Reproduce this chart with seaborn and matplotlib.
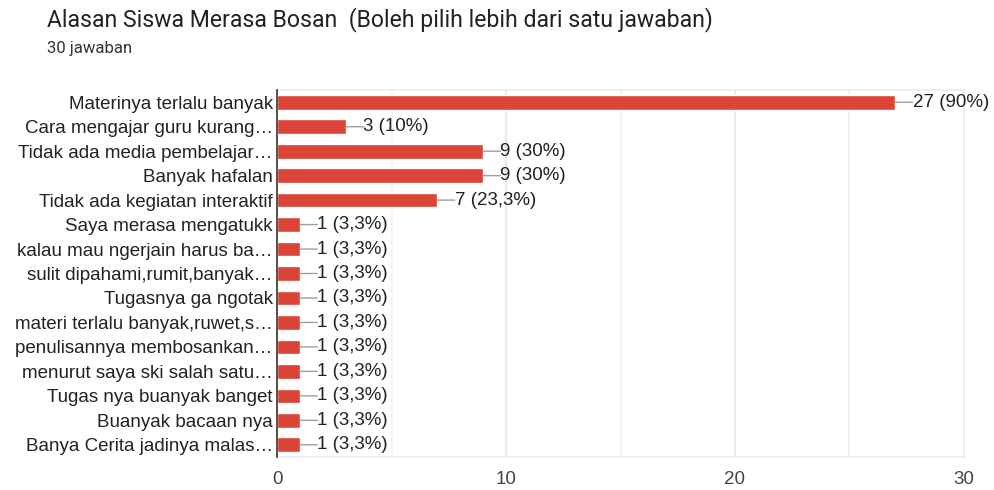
import pandas as pd
import seaborn as sns
from matplotlib import pyplot as plt

TITLE = 'Alasan Siswa Merasa Bosan  (Boleh pilih lebih dari satu jawaban)'
SUBTITLE = '30 jawaban'

labels = [
    'Materinya terlalu banyak',
    'Cara mengajar guru kurang…',
    'Tidak ada media pembelajar…',
    'Banyak hafalan',
    'Tidak ada kegiatan interaktif',
    'Saya merasa mengatukk',
    'kalau mau ngerjain harus ba…',
    'sulit dipahami,rumit,banyak…',
    'Tugasnya ga ngotak',
    'materi terlalu banyak,ruwet,s…',
    'penulisannya membosankan…',
    'menurut saya ski salah satu…',
    'Tugas nya buanyak banget',
    'Buanyak bacaan nya',
    'Banya Cerita jadinya malas…',
]
counts = [27, 3, 9, 9, 7, 1, 1, 1, 1, 1, 1, 1, 1, 1, 1]
pct_text = ['90%', '10%', '30%', '30%', '23,3%', '3,3%', '3,3%', '3,3%',
            '3,3%', '3,3%', '3,3%', '3,3%', '3,3%', '3,3%', '3,3%']

sns.set_style('white')
plt.rcParams['font.family'] = ['Liberation Sans', 'DejaVu Sans']

df = pd.DataFrame({'label': labels, 'count': counts})

fig = plt.figure(figsize=(9.94, 4.9), dpi=100)
ax = fig.add_axes([0.2787, 0.0673, 0.6911, 0.749])
sns.barplot(data=df, x='count', y='label', color='#db4437', width=0.6,
            saturation=1, ax=ax, zorder=3)

ax.set_xlim(0, 30)
ax.set_xticks([0, 10, 20, 30])
ax.set_xticks([5, 15, 25], minor=True)
ax.grid(axis='x', which='major', color='#e6e6e6', lw=1.2, zorder=0)
ax.grid(axis='x', which='minor', color='#f0f0f0', lw=1.2, zorder=0)
ax.set_xlabel('')
ax.set_ylabel('')
ax.tick_params(axis='x', which='both', length=0, pad=10, labelsize=13.5,
               labelcolor='#444444')
ax.tick_params(axis='y', length=0, pad=3, labelsize=13.5, labelcolor='#222222')

for side in ['top', 'right', 'bottom']:
    ax.spines[side].set_color('#ececec')
    ax.spines[side].set_linewidth(1.2)
ax.spines['left'].set_color('#333333')
ax.spines['left'].set_linewidth(1.2)
ax.spines['left'].set_zorder(5)

# leader line and value label to the right of each bar
for i, (c, p) in enumerate(zip(counts, pct_text)):
    ax.annotate('', xy=(c, i), xytext=(12.5, 0), textcoords='offset points',
                arrowprops=dict(arrowstyle='-', color='#9e9e9e', lw=1,
                                shrinkA=0, shrinkB=0))
    ax.annotate(f'{c} ({p})', xy=(c, i), xytext=(12.5, 0),
                textcoords='offset points', va='center', ha='left',
                fontsize=13.5, color='#222222')

fig.text(47 / 994, 1 - 20 / 490, TITLE, fontsize=16.6, color='#202124',
         va='center', ha='left', family=['Roboto', 'DejaVu Sans'])
fig.text(47 / 994, 1 - 49 / 490, SUBTITLE, fontsize=12, color='#333333',
         va='center', ha='left', family=['Roboto', 'DejaVu Sans'])

plt.savefig('out.png', dpi=100)
plt.clf()
